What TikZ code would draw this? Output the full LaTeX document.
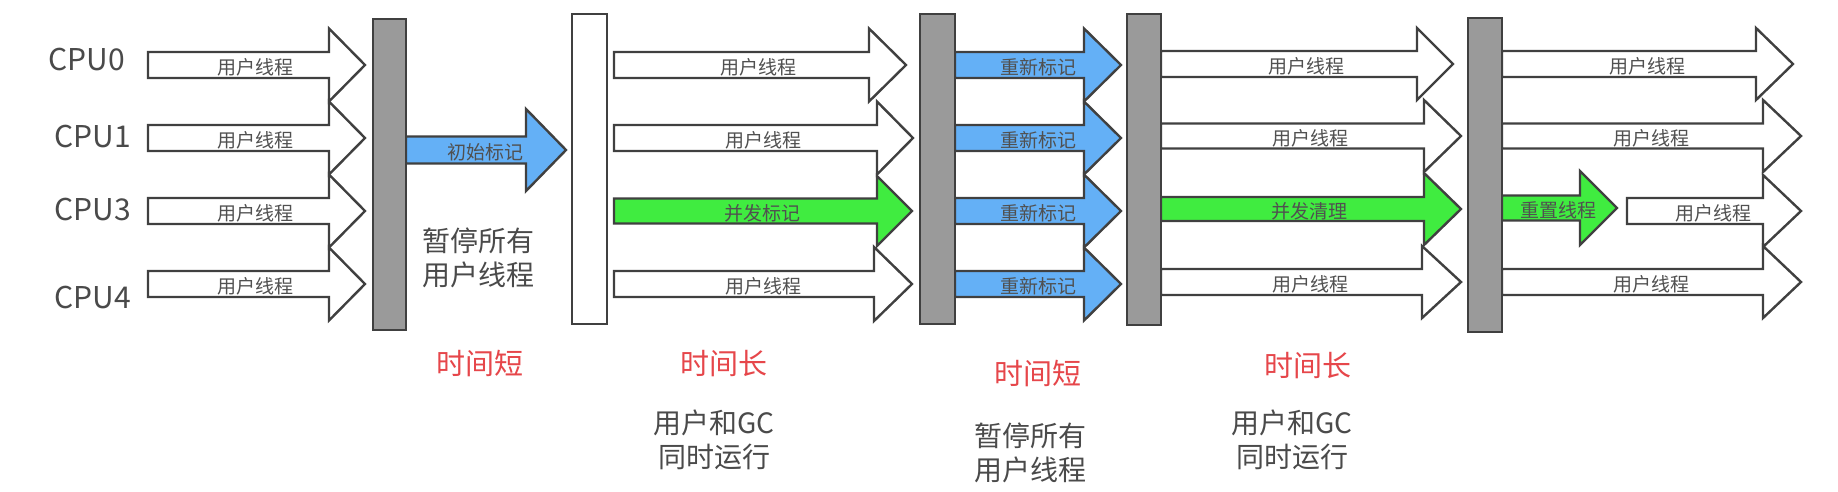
\documentclass[tikz,border=0pt]{standalone}
\usepackage{fontspec}
\setmainfont{Noto Sans CJK SC}
\definecolor{linegray}{HTML}{404040}
\definecolor{bargray}{HTML}{9A9A9A}
\definecolor{arrblue}{RGB}{100,176,246}
\definecolor{arrgreen}{RGB}{64,236,64}
\definecolor{txtgray}{HTML}{4A4A4A}
\definecolor{lblgray}{HTML}{505050}
\definecolor{txtred}{RGB}{230,70,74}
\newcommand\blkarrow[7]{\draw[outl,fill=#1] (#2,#5-#6) -- (#3,#5-#6) -- (#3,#5-#7) -- (#4,#5) -- (#3,#5+#7) -- (#3,#5+#6) -- (#2,#5+#6) -- cycle;}
\begin{document}
\begin{tikzpicture}[x=1pt,y=-1pt,
  outl/.style={draw=linegray, line width=2.4pt, line join=miter},
  barg/.style={outl, fill=bargray},
  barw/.style={outl, fill=white},
  lbl/.style={font=\fontsize{19}{19}\selectfont, text=lblgray, inner sep=0pt},
  cpu/.style={font=\fontsize{30}{30}\selectfont, text=txtgray, inner sep=0pt},
  redtxt/.style={font=\fontsize{29}{29}\selectfont, text=txtred, inner sep=0pt},
  note/.style={font=\fontsize{28}{34}\selectfont, text=txtgray, align=center, inner sep=0pt}]
\useasboundingbox[fill=white] (0,0) rectangle (1838,492);
% CPU labels
\node[cpu] (cpu0) at (87,60) {CPU0};
\node[cpu] (cpu1) at (93,137) {CPU1};
\node[cpu] (cpu3) at (93,210) {CPU3};
\node[cpu] (cpu4) at (93,298) {CPU4};
% section 1
\blkarrow{white}{148}{329}{365}{65}{13}{36.5}
\blkarrow{white}{148}{329}{365}{138}{13}{36.5}
\blkarrow{white}{148}{329}{365}{211}{13}{36.5}
\blkarrow{white}{148}{329}{365}{284}{13}{36.5}
\node[lbl] (a11) at (255,67) {用户线程};
\node[lbl] (a12) at (255,140) {用户线程};
\node[lbl] (a13) at (255,213) {用户线程};
\node[lbl] (a14) at (255,286) {用户线程};
% initial mark
\blkarrow{arrblue}{406}{526}{566}{150}{13.5}{41}
\node[lbl] (init) at (485,152) {初始标记};
\node[note] (stop1) at (478,258) {暂停所有\\用户线程};
% section 2
\blkarrow{white}{614}{869}{906}{65}{13}{36.5}
\blkarrow{white}{614}{877}{913}{138}{13}{36.5}
\blkarrow{arrgreen}{614}{877}{912}{211}{12.5}{35}
\blkarrow{white}{614}{874}{912}{284}{13}{37}
\node[lbl] (a21) at (758,67) {用户线程};
\node[lbl] (a22) at (763,140) {用户线程};
\node[lbl] (a23) at (762,213) {并发标记};
\node[lbl] (a24) at (763,286) {用户线程};
% section 3 remark
\blkarrow{arrblue}{955}{1084}{1121}{65}{13}{36.5}
\blkarrow{arrblue}{955}{1084}{1121}{138}{13}{36.5}
\blkarrow{arrblue}{955}{1084}{1121}{211}{13}{36.5}
\blkarrow{arrblue}{955}{1084}{1121}{284}{13}{36.5}
\node[lbl] (r1) at (1038,67) {重新标记};
\node[lbl] (r2) at (1038,140) {重新标记};
\node[lbl] (r3) at (1038,213) {重新标记};
\node[lbl] (r4) at (1038,286) {重新标记};
% section 4
\blkarrow{white}{1161}{1417}{1453}{64}{13}{36}
\blkarrow{white}{1161}{1424}{1461}{136}{12.5}{36}
\blkarrow{arrgreen}{1161}{1424}{1461}{209}{12}{36}
\blkarrow{white}{1161}{1422}{1461}{282}{13}{36}
\node[lbl] (a41) at (1306,66) {用户线程};
\node[lbl] (a42) at (1310,138) {用户线程};
\node[lbl] (a43) at (1309,211) {并发清理};
\node[lbl] (a44) at (1310,284) {用户线程};
% section 5
\blkarrow{white}{1502}{1756}{1793}{64}{13}{36}
\blkarrow{white}{1502}{1763}{1801}{136}{12.5}{36}
\blkarrow{arrgreen}{1502}{1580}{1617}{208}{12.5}{37}
\blkarrow{white}{1627}{1763}{1801}{211}{13}{36}
\blkarrow{white}{1502}{1763}{1801}{282}{13}{36}
\node[lbl] (a51) at (1647,66) {用户线程};
\node[lbl] (a52) at (1651,138) {用户线程};
\node[lbl] (a53) at (1558,210) {重置线程};
\node[lbl] (a54) at (1713,213) {用户线程};
\node[lbl] (a55) at (1651,284) {用户线程};
% bars
\draw[barg] (373,19) rectangle (406,330);
\draw[barw] (572,14) rectangle (607,324);
\draw[barg] (920,14) rectangle (955,324);
\draw[barg] (1127,14) rectangle (1161,325);
\draw[barg] (1468,18) rectangle (1502,332);
% bottom notes
\node[redtxt] (t1) at (480,363) {时间短};
\node[redtxt] (t2) at (724,364) {时间长};
\node[redtxt] (t3) at (1038,373) {时间短};
\node[redtxt] (t4) at (1308,366) {时间长};
\node[note] (n2) at (714,440) {用户和GC\\同时运行};
\node[note] (n3) at (1030,453) {暂停所有\\用户线程};
\node[note] (n4) at (1292,440) {用户和GC\\同时运行};
\end{tikzpicture}
\end{document}
